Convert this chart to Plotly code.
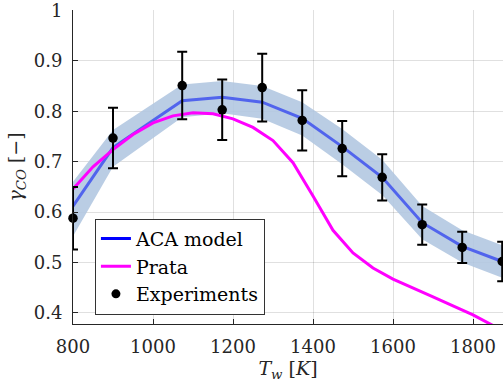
import plotly.graph_objects as go

# ---- data ----
x_exp = [800, 900, 1073, 1173, 1273, 1373, 1473, 1573, 1673, 1773, 1873]
y_exp = [0.588, 0.747, 0.851, 0.803, 0.847, 0.782, 0.726, 0.669, 0.575, 0.530, 0.502]
err_exp = [0.062, 0.060, 0.067, 0.060, 0.067, 0.060, 0.055, 0.046, 0.040, 0.031, 0.039]

x_aca = [800, 900, 1073, 1173, 1273, 1373, 1473, 1573, 1673, 1773, 1873]
y_aca = [0.612, 0.728, 0.821, 0.828, 0.818, 0.786, 0.730, 0.669, 0.579, 0.532, 0.502]
aca_low = [0.552, 0.690, 0.788, 0.796, 0.785, 0.752, 0.695, 0.634, 0.546, 0.500, 0.470]
aca_up = [0.660, 0.763, 0.853, 0.860, 0.850, 0.818, 0.765, 0.704, 0.612, 0.564, 0.534]

x_prata = [800, 850, 900, 950, 1000, 1050, 1100, 1150, 1200, 1250, 1300, 1350,
           1400, 1450, 1500, 1550, 1600, 1650, 1700, 1750, 1800, 1850]
y_prata = [0.646, 0.690, 0.724, 0.754, 0.777, 0.791, 0.797, 0.795, 0.785, 0.768,
           0.742, 0.698, 0.632, 0.564, 0.519, 0.489, 0.467, 0.450, 0.432, 0.414,
           0.396, 0.375]

x_ticks = [800, 1000, 1200, 1400, 1600, 1800]
y_ticks = [0.4, 0.5, 0.6, 0.7, 0.8, 0.9, 1.0]
y_ticklabels = ["0.4", "0.5", "0.6", "0.7", "0.8", "0.9", "1"]

FONT = "DejaVu Serif"
TXT = "#262626"

fig = go.Figure()

# uncertainty band
fig.add_trace(go.Scatter(x=x_aca, y=aca_up, mode="lines", line=dict(width=0),
                         showlegend=False, hoverinfo="skip"))
fig.add_trace(go.Scatter(x=x_aca, y=aca_low, mode="lines", line=dict(width=0),
                         fill="tonexty", fillcolor="rgba(176,198,224,0.88)",
                         showlegend=False, hoverinfo="skip"))

# ACA model line (drawn semi-transparent as in the reference)
fig.add_trace(go.Scatter(x=x_aca, y=y_aca, mode="lines",
                         line=dict(color="rgba(40,60,240,0.72)", width=3),
                         showlegend=False))
# Prata
fig.add_trace(go.Scatter(x=x_prata, y=y_prata, mode="lines",
                         line=dict(color="#FF00FF", width=3),
                         showlegend=False))
# Experiments
fig.add_trace(go.Scatter(x=x_exp, y=y_exp, mode="markers",
                         marker=dict(color="black", size=9.5),
                         error_y=dict(type="data", array=err_exp, color="black",
                                      thickness=2, width=5),
                         cliponaxis=False, showlegend=False))

# legend entries
fig.add_trace(go.Scatter(x=[None], y=[None], mode="lines", name="ACA model",
                         line=dict(color="#0000FF", width=3)))
fig.add_trace(go.Scatter(x=[None], y=[None], mode="lines", name="Prata",
                         line=dict(color="#FF00FF", width=3)))
fig.add_trace(go.Scatter(x=[None], y=[None], mode="markers", name="Experiments",
                         marker=dict(color="black", size=9),
                         error_y=dict(type="data", array=[0.05], color="black",
                                      thickness=2, width=5)))

fig.update_layout(
    width=503, height=387,
    margin=dict(l=73, r=0, t=10, b=63),
    paper_bgcolor="white", plot_bgcolor="white",
    font=dict(family=FONT, size=18, color=TXT),
    legend=dict(x=0.051, y=0.03, xanchor="left", yanchor="bottom",
                bgcolor="white", bordercolor="#333333", borderwidth=1,
                font=dict(family=FONT, size=19, color="black"),
                traceorder="normal", tracegroupgap=0, itemwidth=30),
)
fig.update_xaxes(
    range=[800, 1875], tickvals=x_ticks, ticktext=[str(v) for v in x_ticks],
    automargin=False, ticklabeloverflow="allow",
    tickfont=dict(family=FONT, size=18, color=TXT),
    showgrid=True, gridcolor="rgba(0,0,0,0.12)", gridwidth=1,
    showline=True, linecolor=TXT, linewidth=1,
    ticks="inside", ticklen=5, tickcolor=TXT, ticklabelstandoff=6,
    zeroline=False,
    title=dict(text="<i>T</i><sub><i>w</i></sub> [<i>K</i>]", standoff=4,
               font=dict(family=FONT, size=19, color=TXT)),
)
fig.update_yaxes(
    range=[0.378, 1.001], tickvals=y_ticks, ticktext=y_ticklabels,
    automargin=False, ticklabeloverflow="allow",
    tickfont=dict(family=FONT, size=18, color=TXT),
    showgrid=True, gridcolor="rgba(0,0,0,0.12)", gridwidth=1,
    showline=True, linecolor=TXT, linewidth=1,
    ticks="inside", ticklen=5, tickcolor=TXT, ticklabelstandoff=6,
    zeroline=False,
    title=dict(text="<i>γ</i><sub><i>CO</i></sub> [−]", standoff=6,
               font=dict(family=FONT, size=19, color=TXT)),
)

fig.write_html("out.html", config={"displayModeBar": False},
               post_script="document.body.style.margin='0';document.body.style.overflow='hidden';")
